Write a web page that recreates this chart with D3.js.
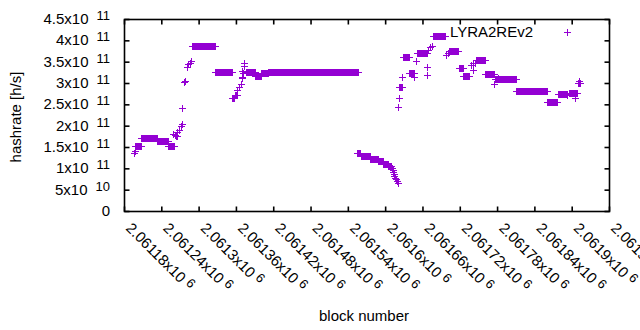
<!DOCTYPE html>
<html>
<head>
<meta charset="utf-8">
<script src="https://cdn.jsdelivr.net/npm/d3@7"></script>
<style>
  body { margin: 0; background: #fff; }
  text { font-family: "Liberation Sans", Arial, sans-serif; fill: #000; }
</style>
</head>
<body>
<svg id="chart" width="640" height="330"></svg>
<script>
// runs of blocks with the same hashrate: [first block, last block, hashrate in 1e11 h/s]
var leftRuns = [
  [2061196, 2061196, 1.35], [2061197, 2061198, 1.40], [2061198, 2061207, 1.52],
  [2061207, 2061233, 1.70], [2061233, 2061251, 1.65], [2061251, 2061260, 1.52],
  [2061259, 2061259, 1.80], [2061262, 2061262, 1.78], [2061263, 2061263, 1.76],
  [2061265, 2061265, 1.86], [2061266, 2061266, 1.76], [2061268, 2061268, 1.91],
  [2061271, 2061271, 2.00], [2061273, 2061273, 2.04], [2061274, 2061274, 2.41],
  [2061277, 2061277, 3.02], [2061278, 2061278, 3.05], [2061281, 2061281, 3.37],
  [2061283, 2061283, 3.44], [2061286, 2061286, 3.48], [2061288, 2061288, 3.52],
  [2061290, 2061326, 3.86]
];
var plateauRuns = [
  [2061327, 2061353, 3.25], [2061353, 2061357, 2.66], [2061358, 2061361, 2.71],
  [2061362, 2061362, 2.84], [2061365, 2061365, 2.90], [2061368, 2061368, 2.98],
  [2061369, 2061369, 3.11], [2061370, 2061370, 3.13], [2061370, 2061370, 3.28],
  [2061371, 2061371, 3.24], [2061373, 2061373, 3.40], [2061373, 2061373, 3.46],
  [2061376, 2061391, 3.25], [2061391, 2061401, 3.16], [2061393, 2061393, 3.19],
  [2061400, 2061412, 3.23], [2061412, 2061556, 3.25]
];
var declineRuns = [
  [2061554, 2061560, 1.35], [2061561, 2061575, 1.29], [2061576, 2061588, 1.23],
  [2061589, 2061596, 1.17], [2061597, 2061604, 1.11], [2061605, 2061610, 1.06],
  [2061611, 2061611, 1.01], [2061612, 2061612, 0.96], [2061613, 2061613, 0.91],
  [2061614, 2061614, 0.87], [2061615, 2061615, 0.82], [2061616, 2061616, 0.78],
  [2061617, 2061617, 0.74], [2061619, 2061619, 0.70], [2061621, 2061621, 0.65]
];
var rightRuns = [
  [2061621, 2061621, 2.44], [2061623, 2061623, 2.66], [2061623, 2061627, 2.90],
  [2061627, 2061627, 3.15], [2061629, 2061638, 3.60], [2061639, 2061646, 3.24],
  [2061647, 2061647, 3.13], [2061649, 2061649, 3.52], [2061652, 2061667, 3.70],
  [2061668, 2061668, 3.37], [2061668, 2061668, 3.19], [2061669, 2061669, 3.77],
  [2061672, 2061672, 3.84], [2061675, 2061675, 3.87], [2061677, 2061696, 4.10],
  [2061698, 2061698, 3.65], [2061701, 2061701, 3.70], [2061702, 2061717, 3.75],
  [2061718, 2061726, 3.34], [2061726, 2061735, 3.16], [2061738, 2061738, 3.42],
  [2061741, 2061741, 3.46], [2061741, 2061741, 3.30], [2061744, 2061744, 3.48],
  [2061746, 2061760, 3.55], [2061761, 2061775, 3.21], [2061775, 2061775, 2.97],
  [2061777, 2061810, 3.09], [2061782, 2061782, 3.11], [2061811, 2061860, 2.81],
  [2061860, 2061877, 2.55], [2061878, 2061892, 2.75], [2061892, 2061892, 2.72],
  [2061896, 2061909, 2.77], [2061905, 2061905, 2.66], [2061910, 2061914, 3.00],
  [2061912, 2061912, 3.04]
];

var xTickValues = [2061180, 2061240, 2061300, 2061360, 2061420, 2061480, 2061540,
  2061600, 2061660, 2061720, 2061780, 2061840, 2061900, 2061960];
var xTickLabels = ["2.06118x10", "2.06124x10", "2.0613x10", "2.06136x10", "2.06142x10",
  "2.06148x10", "2.06154x10", "2.0616x10", "2.06166x10", "2.06172x10", "2.06178x10",
  "2.06184x10", "2.0619x10", "2.06196x10"];
var xTickExp = "6";

var yTickValues = [0, 0.5e11, 1e11, 1.5e11, 2e11, 2.5e11, 3e11, 3.5e11, 4e11, 4.5e11];
var yTickLabels = ["0", "5x10", "1x10", "1.5x10", "2x10", "2.5x10", "3x10", "3.5x10", "4x10", "4.5x10"];
var yTickExp = ["", "10", "11", "11", "11", "11", "11", "11", "11", "11"];

var seriesName = "LYRA2REv2";
var colour = "#9400d3";

(function () {
  "use strict";
  var svg = d3.select("#chart"),
    plotLeft = 124, plotRight = 609, plotTop = 19, plotBottom = 211,
    tickLen = 5,
    x = d3.scaleLinear().domain([2061180, 2061960]).range([plotLeft, plotRight]),
    y = d3.scaleLinear().domain([0, 4.5e11]).range([plotBottom, plotTop]),
    points = [],
    frame, yl, xl;

  [leftRuns, plateauRuns, declineRuns, rightRuns].forEach(function (runs) {
    runs.forEach(function (r) {
      var b;
      for (b = r[0]; b <= r[1]; b++) {
        points.push({ block: b, rate: r[2] * 1e11 });
      }
    });
  });

  function plus(cx, cy) {
    var px = Math.round(cx) + 0.5, py = Math.round(cy) + 0.5;
    return "M" + (px - 3.5) + "," + py + "h7M" + px + "," + (py - 3.5) + "v7";
  }

  // border and inward ticks, mirrored on top and right
  frame = svg.append("g").attr("class", "frame")
    .attr("stroke", "black").attr("fill", "none").attr("stroke-width", 1.6);
  frame.append("rect")
    .attr("x", plotLeft + 0.5).attr("y", plotTop + 0.5)
    .attr("width", plotRight - plotLeft).attr("height", plotBottom - plotTop);
  frame.append("g")
    .attr("transform", "translate(0," + (plotBottom + 0.5) + ")")
    .call(d3.axisBottom(x).tickValues(xTickValues).tickSize(-tickLen).tickFormat(""))
    .call(function (g) { g.select(".domain").remove(); });
  frame.append("g")
    .attr("transform", "translate(0," + (plotTop + 0.5) + ")")
    .call(d3.axisTop(x).tickValues(xTickValues).tickSize(-tickLen).tickFormat(""))
    .call(function (g) { g.select(".domain").remove(); });
  frame.append("g")
    .attr("transform", "translate(" + (plotLeft + 0.5) + ",0)")
    .call(d3.axisLeft(y).tickValues(yTickValues).tickSize(-tickLen).tickFormat(""))
    .call(function (g) { g.select(".domain").remove(); });
  frame.append("g")
    .attr("transform", "translate(" + (plotRight + 0.5) + ",0)")
    .call(d3.axisRight(y).tickValues(yTickValues).tickSize(-tickLen).tickFormat(""))
    .call(function (g) { g.select(".domain").remove(); });
  frame.selectAll(".tick line").attr("stroke", "black").attr("stroke-width", 1.6);

  // y tick labels with superscript exponent
  yl = svg.append("g").selectAll("text")
    .data(yTickValues)
    .enter().append("text")
    .attr("x", 110)
    .attr("y", function (d) { return y(d) + 5; })
    .attr("text-anchor", "end")
    .attr("font-size", 15);
  yl.append("tspan").text(function (d, i) { return yTickLabels[i]; });
  yl.append("tspan")
    .attr("dx", function (d, i) { return yTickExp[i] ? 8 : 0; })
    .attr("dy", -4)
    .attr("font-size", 13)
    .text(function (d, i) { return yTickExp[i]; });

  // x tick labels, rotated and starting at the tick
  xl = svg.append("g").selectAll("text")
    .data(xTickValues)
    .enter().append("text")
    .attr("transform", function (d) { return "translate(" + x(d) + ",222) rotate(45)"; })
    .attr("x", 5.7).attr("y", 4.2)
    .attr("font-size", 15);
  xl.append("tspan").text(function (d, i) { return xTickLabels[i]; });
  xl.append("tspan").attr("dx", 4).attr("dy", -4).attr("font-size", 13).text(xTickExp);

  // axis titles
  svg.append("text")
    .attr("x", 364).attr("y", 321)
    .attr("text-anchor", "middle").attr("font-size", 15)
    .text("block number");
  svg.append("text")
    .attr("transform", "translate(21,117) rotate(-90)")
    .attr("text-anchor", "middle").attr("font-size", 15)
    .text("hashrate [h/s]");

  // data points
  svg.append("g").attr("class", "points")
    .attr("stroke", colour).attr("fill", "none").attr("shape-rendering", "crispEdges")
    .selectAll("path")
    .data(points)
    .enter().append("path")
    .attr("d", function (d) { return plus(x(d.block), y(d.rate)); });

  // key
  svg.append("text")
    .attr("x", 533).attr("y", 37)
    .attr("text-anchor", "end").attr("font-size", 15)
    .text(seriesName);
  svg.append("path")
    .attr("d", plus(567, 32))
    .attr("fill", "none").attr("stroke", colour).attr("shape-rendering", "crispEdges");
}());
</script>
</body>
</html>
